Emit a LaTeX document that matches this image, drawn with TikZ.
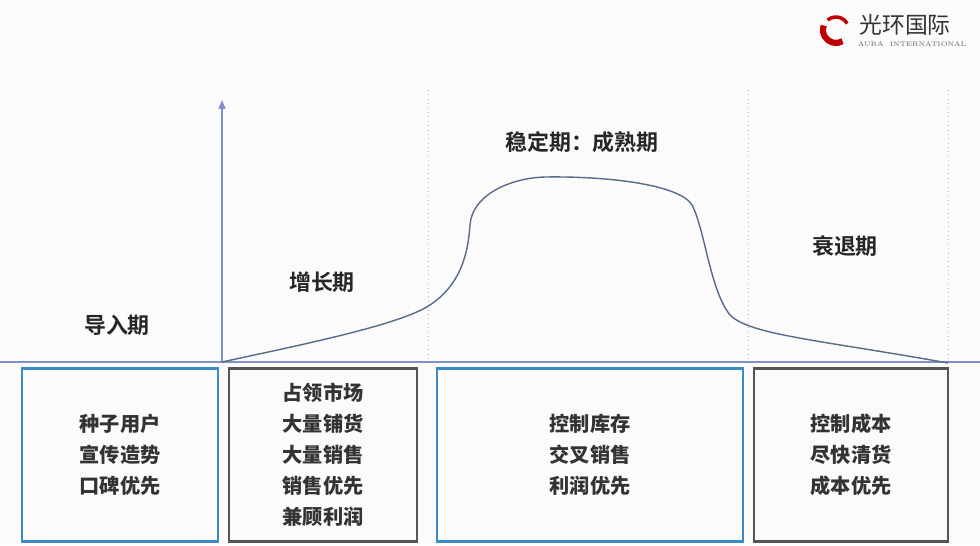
\documentclass[tikz,border=0pt]{standalone}
\usepackage{fontspec}
\newfontfamily\cjk{Noto Sans CJK SC}
\newfontfamily\cjkb{Noto Sans CJK SC Bold}
\usetikzlibrary{arrows.meta}
\definecolor{bx}{HTML}{3A8CC4}
\definecolor{dk}{HTML}{555555}
\definecolor{ax}{HTML}{8090C8}
\definecolor{cv}{HTML}{5A6A8A}
\tikzset{
 box/.style={draw=#1,line width=1.3pt,minimum height=3.46cm,align=center,font=\cjk\fontsize{11.5}{17.6}\selectfont\bfseries,text=black!80,inner sep=0pt},
 stage/.style={font=\cjkb\fontsize{12.5}{14}\selectfont,text=black!85},
 dots/.style={draw=black!30,dotted,line width=0.5pt}
}
\begin{document}
\begin{tikzpicture}[x=0.02cm,y=-0.02cm]
\useasboundingbox (0,0) rectangle (980,545);
\fill[white!97!gray] (0,0) rectangle (980,545);
% axes
\coordinate (o) at (222,362);
\coordinate (ytop) at (222,100);
\coordinate (xl) at (0,362);
\coordinate (xr) at (980,362);
\draw[ax,line width=0.6pt] (xl) -- (xr);
\draw[ax,line width=0.6pt,-{Triangle[length=5pt,width=4pt]}] (o) -- (ytop);
\foreach \x in {428,748,948} \draw[dots] (\x,90) -- (\x,362);
% curve
\draw[cv,line width=0.8pt] (o) .. controls (300,345) and (400,325) .. (430,305)
 .. controls (460,285) and (468,255) .. (470,225)
 .. controls (472,195) and (510,178) .. (545,177)
 .. controls (610,176) and (680,185) .. (692,205)
 .. controls (705,230) and (710,290) .. (730,315)
 .. controls (750,335) and (820,340) .. (948,363);
% stages
\node[stage] (s1) at (117,325) {导入期};
\node[stage] (s2) at (322,282) {增长期};
\node[stage] (s3) at (582,142) {稳定期：成熟期};
\node[stage] (s4) at (845,246) {衰退期};
% boxes
\node[box=bx,minimum width=3.92cm] (b1) at (120,455) {种子用户\\宣传造势\\口碑优先};
\node[box=dk,minimum width=3.76cm] (b2) at (323,455) {占领市场\\大量铺货\\大量销售\\销售优先\\兼顾利润};
\node[box=bx,minimum width=6.12cm] (b3) at (590,455) {控制库存\\交叉销售\\利润优先};
\node[box=dk,minimum width=3.88cm] (b4) at (851,455) {控制成本\\尽快清货\\成本优先};
% logo
\draw[red!75!black,line width=3.5pt] (836,30) ++(60:13) arc (60:200:13);
\draw[red!75!black,line width=2pt] (836,30) ++(230:13) arc (230:330:13);
\node[font=\cjk\fontsize{13}{14}\selectfont,text=black!80] (lg) at (905,25) {光环国际};
\node[font=\fontsize{3.8}{4}\selectfont,text=black!60] (lg2) at (912,44) {AURA\ \ INTERNATIONAL};
\end{tikzpicture}
\end{document}
